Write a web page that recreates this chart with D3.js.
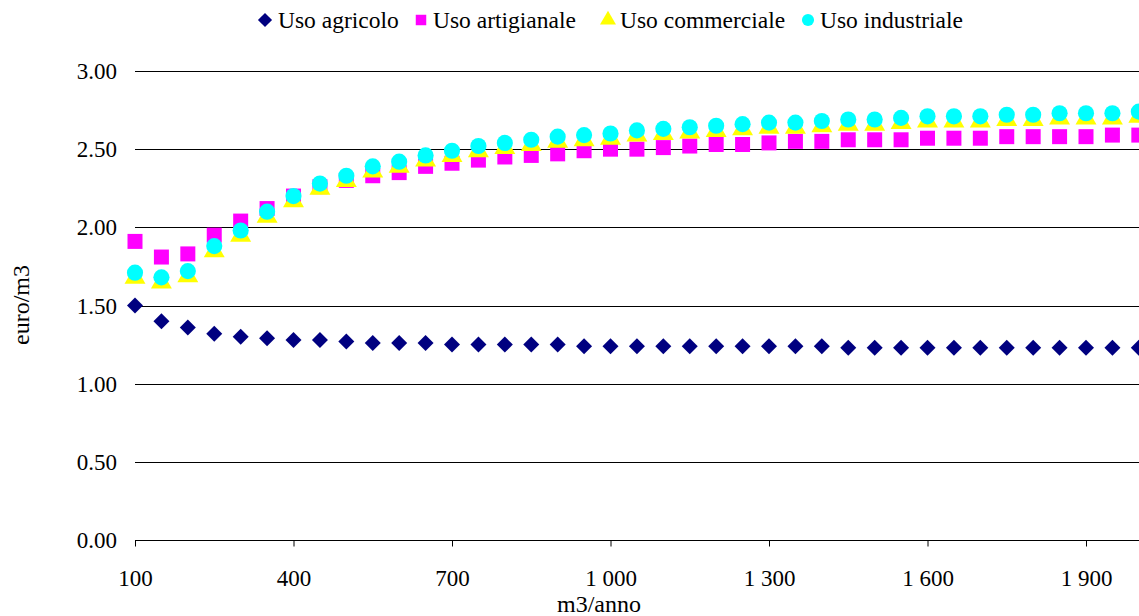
<!DOCTYPE html>
<html>
<head>
<meta charset="utf-8">
<script src="https://cdn.jsdelivr.net/npm/d3@7/dist/d3.min.js"></script>
<style>
  html, body { margin: 0; padding: 0; background: #fff; }
  text { font-family: "Liberation Serif", Tinos, "Times New Roman", Times, serif; }
</style>
</head>
<body>
<svg id="chart" width="1139" height="616" font-family="Liberation Serif"></svg>
<script>
// Consumption classes (m3/anno)
const volumes = [100, 150, 200, 250, 300, 350, 400, 450, 500, 550, 600, 650, 700, 750, 800, 850, 900, 950,
  1000, 1050, 1100, 1150, 1200, 1250, 1300, 1350, 1400, 1450, 1500, 1550, 1600, 1650, 1700, 1750, 1800,
  1850, 1900, 1950, 2000];

// Average tariff per use (euro/m3)
const usoAgricolo = [1.50, 1.40, 1.36, 1.32, 1.30, 1.29, 1.28, 1.28, 1.27, 1.26, 1.26, 1.26, 1.25, 1.25,
  1.25, 1.25, 1.25, 1.24, 1.24, 1.24, 1.24, 1.24, 1.24, 1.24, 1.24, 1.24, 1.24, 1.23, 1.23, 1.23, 1.23,
  1.23, 1.23, 1.23, 1.23, 1.23, 1.23, 1.23, 1.23];
const usoArtigianale = [1.91, 1.81, 1.83, 1.95, 2.04, 2.12, 2.20, 2.26, 2.30, 2.33, 2.35, 2.39, 2.41, 2.43,
  2.45, 2.46, 2.47, 2.49, 2.50, 2.50, 2.51, 2.52, 2.53, 2.53, 2.54, 2.55, 2.55, 2.56, 2.56, 2.56, 2.57,
  2.57, 2.57, 2.58, 2.58, 2.58, 2.58, 2.59, 2.59];
const usoCommerciale = [1.69, 1.66, 1.70, 1.86, 1.96, 2.08, 2.18, 2.26, 2.31, 2.37, 2.40, 2.44, 2.47, 2.50,
  2.52, 2.54, 2.56, 2.57, 2.58, 2.60, 2.61, 2.62, 2.63, 2.64, 2.65, 2.65, 2.66, 2.67, 2.67, 2.68, 2.69,
  2.69, 2.69, 2.70, 2.70, 2.71, 2.71, 2.71, 2.72];
const usoIndustriale = [1.71, 1.68, 1.72, 1.88, 1.98, 2.10, 2.20, 2.28, 2.33, 2.39, 2.42, 2.46, 2.49, 2.52,
  2.54, 2.56, 2.58, 2.59, 2.60, 2.62, 2.63, 2.64, 2.65, 2.66, 2.67, 2.67, 2.68, 2.69, 2.69, 2.70, 2.71,
  2.71, 2.71, 2.72, 2.72, 2.73, 2.73, 2.73, 2.74];

const xTicks = [100, 400, 700, 1000, 1300, 1600, 1900];
const xTickLabels = ["100", "400", "700", "1 000", "1 300", "1 600", "1 900"];
const yTicks = [0, 0.5, 1, 1.5, 2, 2.5, 3];
const yTickLabels = ["0.00", "0.50", "1.00", "1.50", "2.00", "2.50", "3.00"];

const seriesNames = ["Uso agricolo", "Uso artigianale", "Uso commerciale", "Uso industriale"];
const seriesColors = ["#000080", "#FF00FF", "#FFFF00", "#00FFFF"];

const W = 1139, H = 616;
const TICK_FONT = 23;
const TITLE_FONT = 24;
const LEGEND_FONT = 23.5;
const SERIF = "Liberation Serif, Tinos, Times New Roman, serif";
const svg = d3.select("#chart");

const x = d3.scaleLinear().domain([100, 1900]).range([135, 1086]);
const y = d3.scaleLinear().domain([0, 3]).range([540, 71]);
const plotLeft = 135, plotRight = W;

// Symbols
const diamondType = {
  draw(ctx, size) {
    const r = Math.sqrt(size / 2);
    ctx.moveTo(0, -r); ctx.lineTo(r, 0); ctx.lineTo(0, r); ctx.lineTo(-r, 0); ctx.closePath();
  }
};
const symbolTypes = [diamondType, d3.symbolSquare, d3.symbolTriangle, d3.symbolCircle];
const symbolSizes = [128, 225, 190, 205];

// Horizontal gridlines
svg.append("g")
  .selectAll("line")
  .data(yTicks.filter(v => v > 0))
  .join("line")
  .attr("x1", plotLeft).attr("x2", plotRight)
  .attr("y1", d => Math.round(y(d)) + 0.5).attr("y2", d => Math.round(y(d)) + 0.5)
  .attr("stroke", "#000").attr("stroke-width", 1);

// Y tick labels
svg.append("g")
  .selectAll("text")
  .data(yTicks)
  .join("text")
  .attr("x", 117)
  .attr("y", d => y(d))
  .attr("dy", "0.35em")
  .attr("text-anchor", "end")
  .attr("font-family", SERIF)
  .attr("font-size", TICK_FONT)
  .text((d, i) => yTickLabels[i]);

// X axis
const xAxis = d3.axisBottom(x)
  .tickValues(xTicks)
  .tickFormat((d, i) => xTickLabels[i])
  .tickSize(6)
  .tickPadding(23);
const gx = svg.append("g")
  .attr("transform", `translate(0,${Math.round(y(0)) + 0.5})`)
  .call(xAxis)
  .attr("font-family", SERIF);
gx.select(".domain").remove();
gx.append("line")
  .attr("x1", plotLeft).attr("x2", plotRight)
  .attr("stroke", "#000");
gx.selectAll(".tick line").attr("stroke", "#000");
gx.selectAll(".tick text")
  .attr("font-size", TICK_FONT)
  .attr("font-family", SERIF)
  .attr("fill", "#000");

// Axis titles
svg.append("text")
  .attr("x", 599).attr("y", 612)
  .attr("text-anchor", "middle")
  .attr("font-family", SERIF)
  .attr("font-size", TITLE_FONT)
  .text("m3/anno");
svg.append("text")
  .attr("transform", "translate(29,305) rotate(-90)")
  .attr("text-anchor", "middle")
  .attr("font-family", SERIF)
  .attr("font-size", TITLE_FONT)
  .text("euro/m3");

// Series markers
const allSeries = [usoAgricolo, usoArtigianale, usoCommerciale, usoIndustriale];
allSeries.forEach((vals, si) => {
  const sym = d3.symbol().type(symbolTypes[si]).size(symbolSizes[si]);
  svg.append("g")
    .selectAll("path")
    .data(volumes.map((v, i) => ({ v, val: vals[i] })))
    .join("path")
    .attr("transform", d => `translate(${x(d.v)},${y(d.val) + (si === 2 ? 2 : 0)})`)
    .attr("d", sym())
    .attr("fill", seriesColors[si]);
});

// Legend
const legendItems = [
  { sx: 265, tx: 278 },
  { sx: 421, tx: 433 },
  { sx: 608, tx: 620 },
  { sx: 808, tx: 820 }
];
const legendSizes = [100, 110, 110, 115];
const lg = svg.append("g");
seriesNames.forEach((name, i) => {
  lg.append("path")
    .attr("transform", `translate(${legendItems[i].sx},20)`)
    .attr("d", d3.symbol().type(symbolTypes[i]).size(legendSizes[i])())
    .attr("fill", seriesColors[i]);
  lg.append("text")
    .attr("x", legendItems[i].tx).attr("y", 20)
    .attr("dy", "0.35em")
    .attr("font-family", SERIF)
    .attr("font-size", LEGEND_FONT)
    .text(name);
});
</script>
</body>
</html>
